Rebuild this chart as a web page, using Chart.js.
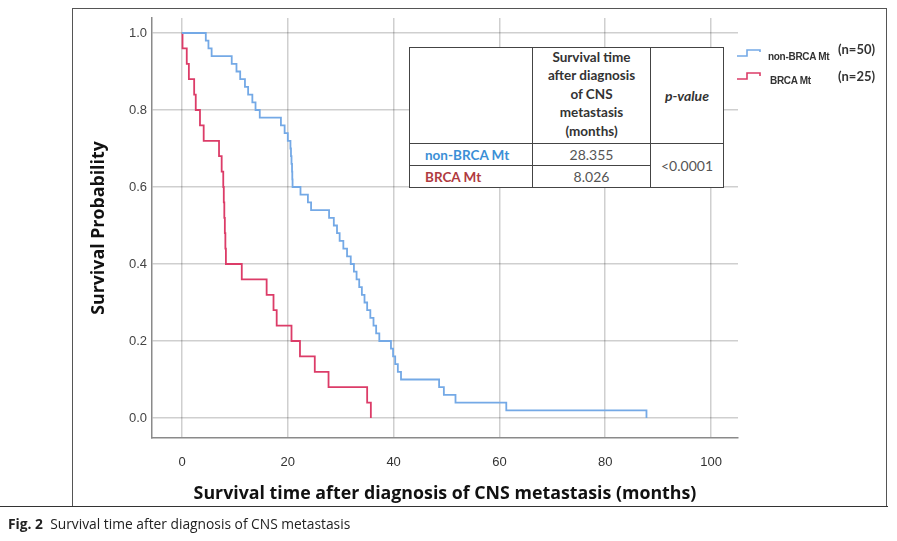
<!DOCTYPE html>
<html><head><meta charset="utf-8">
<script src="https://cdn.jsdelivr.net/npm/chart.js@4.4.1/dist/chart.umd.min.js"></script>
<style>
html,body{margin:0;padding:0;background:#fff;}
#wrap{position:relative;width:897px;height:541px;overflow:hidden;background:#fff;}
#c{position:absolute;left:0;top:0;}
.frame{position:absolute;left:72px;top:8px;width:815px;height:498px;border:1.5px solid #555;border-bottom:none;box-sizing:border-box;}
.bline{position:absolute;left:0;top:506px;width:888px;height:0;border-top:1.5px solid #333;}
#tbl{position:absolute;left:409px;top:47px;border-collapse:collapse;background:#fff;font-family:Lato,"Open Sans",sans-serif;font-size:13.5px;color:#333;}
#tbl td{border:1.5px solid #444;padding:0;text-align:center;vertical-align:middle;}
#tbl .hd{font-weight:bold;line-height:18.4px;padding-bottom:3px;}
#tbl .pv{font-weight:bold;font-style:italic;font-size:14px;}
#tbl .nm{text-align:left;padding-left:15px;font-weight:bold;}
#tbl .num{color:#555;font-size:14px;}
.leg{position:absolute;font-family:"Liberation Sans Narrow","Liberation Sans",Arial,sans-serif;color:#333;white-space:nowrap;}
.legname{font-size:10px;font-weight:bold;letter-spacing:-0.3px;}
.legn{font-size:13px;font-family:Lato,"Open Sans",sans-serif;font-weight:bold;color:#333;}
#cap{position:absolute;left:8px;top:514px;font-family:"Open Sans",sans-serif;font-size:13.8px;color:#222;white-space:nowrap;}
</style>
</head><body>
<div id="wrap">
<canvas id="c" width="897" height="541"></canvas>
<div class="frame"></div>
<div class="bline"></div>
<table id="tbl">
<tr style="height:96px"><td style="width:122px"></td><td class="hd" style="width:117px">Survival time<br>after diagnosis<br>of CNS<br>metastasis<br>(months)</td><td class="pv" style="width:72px">p-value</td></tr>
<tr style="height:22px"><td class="nm" id="n1" style="color:#3b8fd6"></td><td class="num" id="v1"></td><td class="num" id="pv" rowspan="2"></td></tr>
<tr style="height:22px"><td class="nm" id="n2" style="color:#b03a40"></td><td class="num" id="v2"></td></tr>
</table>
<svg style="position:absolute;left:736px;top:48px" width="26" height="40">
<polyline points="1,8 11,8 11,2 24,2 24,4" fill="none" stroke="#74a9e6" stroke-width="1.6"/>
<polyline points="1,31 11,31 11,25 24,25 24,28" fill="none" stroke="#dc3c68" stroke-width="1.6"/>
</svg>
<div class="leg legname" id="l1" style="left:768px;top:51px"></div>
<div class="leg legn" id="c1" style="left:838px;top:41px"></div>
<div class="leg legname" id="l2" style="left:770px;top:75px"></div>
<div class="leg legn" id="c2" style="left:838px;top:68px"></div>
<div id="cap"><b>Fig. 2</b>&nbsp; Survival time after diagnosis of CNS metastasis</div>
</div>
<script>
// ---- data ----
const groupNames = ["non-BRCA Mt", "BRCA Mt"];
const groupN = ["(n=50)", "(n=25)"];
const medianMonths = ["28.355", "8.026"];
const pValue = "<0.0001";

const blueTimes = [0, 4.5, 5.0, 5.6, 9.4, 10.3, 11.0, 11.9, 12.5, 13.3, 13.9, 14.7, 18.7, 19.4, 20.0, 20.5, 20.6, 20.7, 20.8, 20.85, 20.9, 22.4, 23.8, 24.4, 27.8, 28.7, 29.3, 29.8, 30.5, 31.2, 31.9, 32.5, 33.0, 33.5, 34.0, 34.5, 35.0, 35.6, 36.2, 36.7, 37.3, 39.5, 39.9, 40.3, 40.8, 41.4, 48.6, 49.5, 51.7, 61.3, 87.8];
const blueSurv = [1.0, 0.98, 0.96, 0.94, 0.92, 0.90, 0.88, 0.86, 0.84, 0.82, 0.80, 0.78, 0.76, 0.74, 0.72, 0.70, 0.68, 0.66, 0.64, 0.62, 0.60, 0.58, 0.56, 0.54, 0.52, 0.50, 0.48, 0.46, 0.44, 0.42, 0.40, 0.38, 0.36, 0.34, 0.32, 0.30, 0.28, 0.26, 0.24, 0.22, 0.20, 0.18, 0.16, 0.14, 0.12, 0.10, 0.08, 0.06, 0.04, 0.02, 0.00];

const redTimes = [0, 0.1, 0.9, 1.3, 2.3, 2.6, 3.4, 4.1, 7.0, 7.5, 7.8, 7.9, 8.0, 8.1, 8.2, 8.3, 11.3, 16.0, 17.3, 17.9, 20.7, 22.3, 25.1, 27.7, 35.0, 35.7];
const redSurv = [1.0, 0.96, 0.92, 0.88, 0.84, 0.80, 0.76, 0.72, 0.68, 0.64, 0.60, 0.56, 0.52, 0.48, 0.44, 0.40, 0.36, 0.32, 0.28, 0.24, 0.20, 0.16, 0.12, 0.08, 0.04, 0.00];

const xTicks = [0, 20, 40, 60, 80, 100];
const yTicks = [0.0, 0.2, 0.4, 0.6, 0.8, 1.0];

// ---- fill text ----
document.getElementById('n1').textContent = groupNames[0];
document.getElementById('n2').textContent = groupNames[1];
document.getElementById('v1').textContent = medianMonths[0];
document.getElementById('v2').textContent = medianMonths[1];
document.getElementById('pv').textContent = pValue;
document.getElementById('l1').textContent = groupNames[0];
document.getElementById('l2').textContent = groupNames[1];
document.getElementById('c1').textContent = groupN[0];
document.getElementById('c2').textContent = groupN[1];

const toPts = (t, s) => t.map((v, i) => ({x: v, y: s[i]}));
const gridCol = 'rgba(0,0,0,0.19)';
const tickFont = {family: '"Liberation Sans Narrow","Liberation Sans",Arial,sans-serif', size: 13};

new Chart(document.getElementById('c'), {
  type: 'line',
  data: {
    datasets: [
      {label: groupNames[0], data: toPts(blueTimes, blueSurv), borderColor: '#74a9e6', borderWidth: 1.8, stepped: 'before', pointRadius: 0, fill: false},
      {label: groupNames[1], data: toPts(redTimes, redSurv), borderColor: '#dc3c68', borderWidth: 1.8, stepped: 'before', pointRadius: 0, fill: false}
    ]
  },
  options: {
    responsive: false,
    animation: false,
    events: [],
    layout: {padding: {left: 88, top: 18, right: 159, bottom: 36}},
    plugins: {legend: {display: false}, tooltip: {enabled: false}},
    scales: {
      x: {
        type: 'linear', min: -5.67, max: 105.1,
        afterBuildTicks: s => { s.ticks = xTicks.map(v => ({value: v})); },
        afterFit: s => { s.height = 67; },
        ticks: {font: tickFont, color: '#333', padding: 17, maxRotation: 0, callback: v => String(v)},
        grid: {color: gridCol, lineWidth: 1.5, drawTicks: false},
        border: {display: true, color: '#8a8a8a', width: 1.5},
        title: {display: true, text: 'Survival time after diagnosis of CNS metastasis (months)', font: {family: '"Open Sans",sans-serif', weight: 'bold', size: 17.8}, color: '#111', padding: 0}
      },
      y: {
        type: 'linear', min: -0.052, max: 1.039,
        afterBuildTicks: s => { s.ticks = yTicks.map(v => ({value: v})); },
        afterFit: s => { s.width = 64; },
        ticks: {font: tickFont, color: '#444', padding: 5, callback: v => v.toFixed(1)},
        grid: {color: gridCol, lineWidth: 1.5, drawTicks: false},
        border: {display: true, color: '#8a8a8a', width: 1.5},
        title: {display: true, text: 'Survival Probability', font: {family: '"Open Sans",sans-serif', weight: 'bold', size: 17.8}, color: '#111', padding: 0}
      }
    }
  }
});
</script>
</body></html>
